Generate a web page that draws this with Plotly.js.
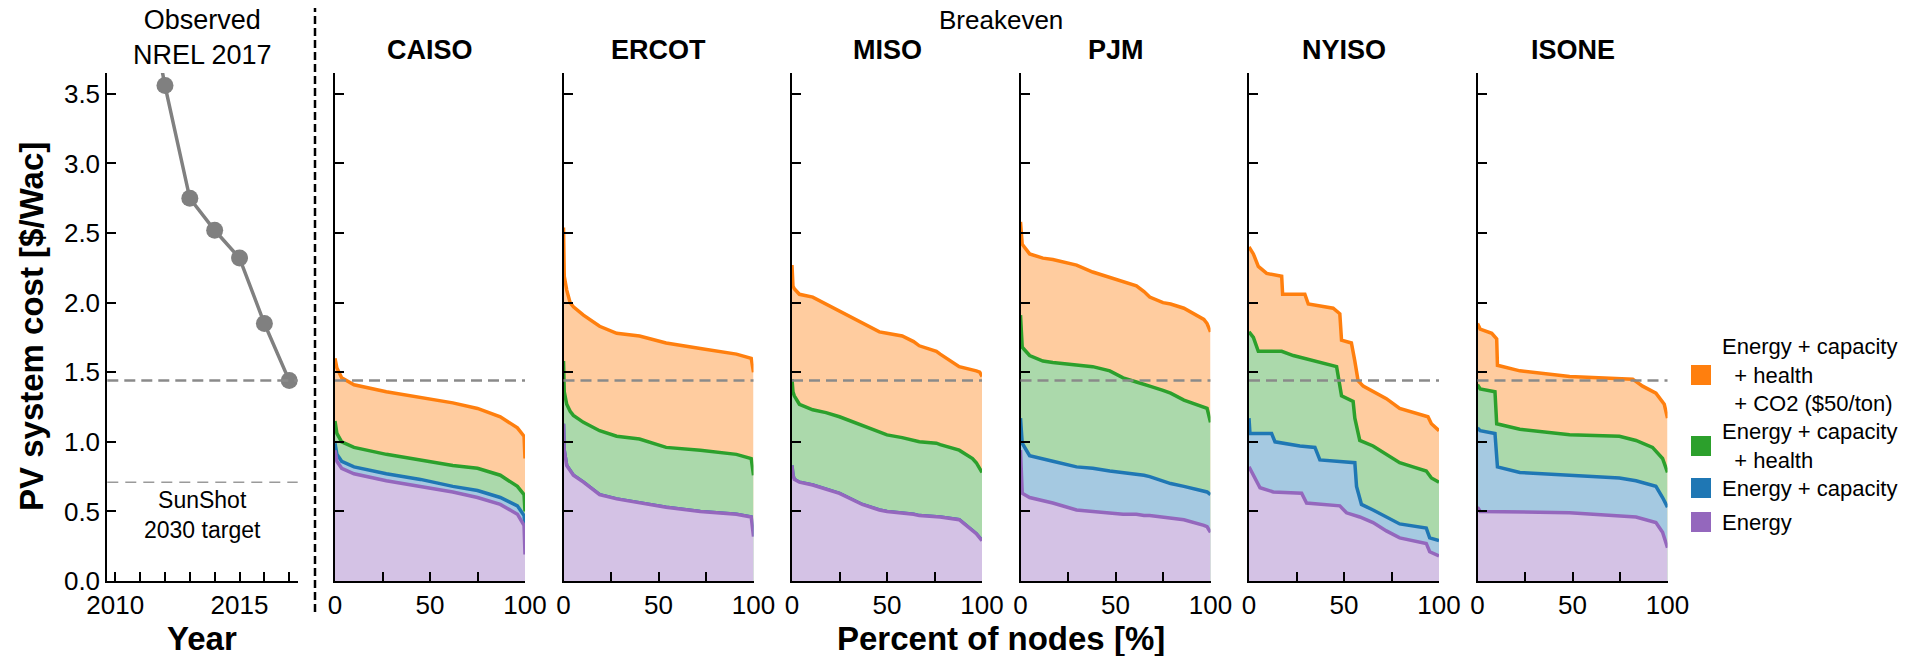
<!DOCTYPE html>
<html><head><meta charset="utf-8">
<script src="https://cdn.plot.ly/plotly-3.0.1.min.js"></script>
<style>html,body{margin:0;padding:0;background:#fff}</style>
</head><body><div id="chart" style="width:1915px;height:656px"></div>
<script>
// ---------------- DATA ----------------
const years = [2011, 2012, 2013, 2014, 2015, 2016, 2017];
const observedCost = [4.5, 3.56, 2.75, 2.52, 2.32, 1.85, 1.44];
const currentCost = 1.44;      // 2017 observed cost (dashed line)
const sunshotTarget = 0.71;    // SunShot 2030 target

const regions = ['CAISO', 'ERCOT', 'MISO', 'PJM', 'NYISO', 'ISONE'];
const seriesLabels = [
  'Energy + capacity<br>&nbsp;&nbsp;+ health<br>&nbsp;&nbsp;+ CO2 ($50/ton)',
  'Energy + capacity<br>&nbsp;&nbsp;+ health',
  'Energy + capacity',
  'Energy'
];
const yTickVals = [0, 0.5, 1, 1.5, 2, 2.5, 3, 3.5];
const yTickText = ['0.0', '0.5', '1.0', '1.5', '2.0', '2.5', '3.0', '3.5'];
const yearTickVals = [2010, 2011, 2012, 2013, 2014, 2015, 2016, 2017];
const yearTickText = ['2010', '', '', '', '', '2015', '', ''];
const pctTickVals = [0, 25, 50, 75, 100];
const pctTickText = ['0', '', '50', '', '100'];

// CAISO
const caisoPct      = [0, 1, 3.5, 10, 27, 45, 62, 75, 87, 96, 99.5, 100];
const caisoCO2      = [1.60, 1.53, 1.46, 1.41, 1.36, 1.32, 1.28, 1.24, 1.18, 1.10, 1.04, 0.88];
const caisoHealth   = [1.15, 1.06, 1.00, 0.96, 0.91, 0.87, 0.83, 0.81, 0.76, 0.68, 0.62, 0.50];
const caisoCapacity = [0.99, 0.91, 0.86, 0.82, 0.77, 0.73, 0.68, 0.65, 0.60, 0.54, 0.47, 0.40];
const caisoEnergy   = [0.94, 0.86, 0.81, 0.77, 0.72, 0.68, 0.64, 0.60, 0.55, 0.48, 0.40, 0.19];

// ERCOT (capacity value equals energy value)
const ercotPct      = [0, 0.4, 1.7, 3.5, 5.2, 10.5, 19, 28, 40, 54, 72, 91, 98.8, 100];
const ercotCO2      = [2.54, 2.19, 2.09, 2.00, 1.97, 1.91, 1.83, 1.78, 1.76, 1.71, 1.67, 1.63, 1.60, 1.50];
const ercotHealth   = [1.58, 1.36, 1.27, 1.22, 1.19, 1.14, 1.08, 1.04, 1.02, 0.96, 0.94, 0.91, 0.88, 0.76];
const ercotEnergy   = [1.13, 0.94, 0.83, 0.79, 0.76, 0.71, 0.62, 0.59, 0.56, 0.53, 0.50, 0.48, 0.46, 0.32];
const ercotCapacity = ercotEnergy;

// MISO (capacity value equals energy value)
const misoPct      = [0, 0.5, 1.2, 3.9, 10.9, 17.9, 25, 37, 46, 50, 58, 64, 67, 76, 78, 88, 95, 97, 98.8, 100];
const misoCO2      = [2.27, 2.12, 2.10, 2.06, 2.04, 1.99, 1.94, 1.85, 1.79, 1.78, 1.76, 1.72, 1.69, 1.65, 1.63, 1.54, 1.52, 1.51, 1.50, 1.47];
const misoHealth   = [1.45, 1.36, 1.33, 1.27, 1.23, 1.21, 1.18, 1.12, 1.07, 1.05, 1.03, 1.01, 1.00, 0.99, 0.98, 0.94, 0.88, 0.85, 0.80, 0.78];
const misoEnergy   = [0.83, 0.76, 0.73, 0.71, 0.69, 0.66, 0.63, 0.55, 0.51, 0.50, 0.49, 0.48, 0.47, 0.46, 0.46, 0.44, 0.36, 0.34, 0.31, 0.29];
const misoCapacity = misoEnergy;

// PJM
const pjmPct      = [0, 0.5, 0.9, 4.8, 11.8, 17, 29.5, 38, 47, 54, 61, 65, 68, 75, 79, 86, 96.5, 98.2, 100];
const pjmCO2      = [2.58, 2.46, 2.42, 2.35, 2.32, 2.31, 2.27, 2.22, 2.18, 2.15, 2.12, 2.08, 2.04, 2.00, 1.99, 1.96, 1.88, 1.85, 1.79];
const pjmHealth   = [1.91, 1.71, 1.68, 1.62, 1.58, 1.57, 1.55, 1.54, 1.51, 1.46, 1.43, 1.41, 1.40, 1.37, 1.35, 1.30, 1.25, 1.24, 1.14];
const pjmCapacity = [1.17, 1.02, 0.99, 0.90, 0.88, 0.86, 0.82, 0.81, 0.79, 0.78, 0.77, 0.76, 0.75, 0.72, 0.70, 0.68, 0.65, 0.64, 0.62];
const pjmEnergy   = [0.94, 0.64, 0.63, 0.60, 0.58, 0.56, 0.51, 0.50, 0.49, 0.48, 0.48, 0.47, 0.47, 0.46, 0.45, 0.44, 0.40, 0.39, 0.35];

// NYISO (stepped curves, one percent grid per series)
const nyisoPctCO2      = [0, 2.3, 4.9, 9.3, 17.2, 17.7, 29.4, 31.2, 44.3, 47.8, 48.7, 53.9, 55.7, 57.4, 60.1, 65.3, 72.3, 79.3, 86.3, 94.2, 96.0, 100];
const nyisoCO2         = [2.40, 2.35, 2.26, 2.21, 2.19, 2.06, 2.06, 1.99, 1.96, 1.92, 1.73, 1.71, 1.58, 1.44, 1.40, 1.36, 1.31, 1.24, 1.21, 1.18, 1.13, 1.08];
const nyisoPctHealth   = [0, 2.3, 4.9, 17.2, 23.3, 35.6, 46.1, 48.7, 54.8, 55.7, 58.3, 65.3, 72.3, 79.3, 86.3, 93.3, 96.0, 100];
const nyisoHealth      = [1.79, 1.75, 1.65, 1.65, 1.62, 1.58, 1.54, 1.33, 1.29, 1.17, 1.01, 0.97, 0.91, 0.85, 0.82, 0.79, 0.74, 0.71];
const nyisoPctCapacity = [0, 0.5, 11.9, 13.7, 26.8, 34.7, 37.3, 47.8, 55.7, 56.6, 59.2, 65.3, 72.3, 79.3, 93.3, 95.1, 100];
const nyisoCapacity    = [1.17, 1.06, 1.06, 1.00, 0.97, 0.96, 0.87, 0.86, 0.85, 0.68, 0.55, 0.51, 0.46, 0.41, 0.38, 0.31, 0.29];
const nyisoPctEnergy   = [0, 2.3, 5.8, 12.8, 27.7, 30.3, 47.8, 51.3, 58.3, 65.3, 72.3, 79.3, 93.3, 95.1, 100];
const nyisoEnergy      = [0.82, 0.76, 0.67, 0.64, 0.63, 0.56, 0.54, 0.49, 0.46, 0.42, 0.36, 0.31, 0.27, 0.21, 0.18];

// ISONE (one percent grid per series)
const isonePctCO2      = [0, 1.4, 7.5, 10.1, 10.5, 22.3, 48.5, 69.5, 81.7, 86.9, 93.9, 98.3, 100];
const isoneCO2         = [1.85, 1.81, 1.78, 1.74, 1.55, 1.51, 1.47, 1.46, 1.45, 1.40, 1.35, 1.27, 1.17];
const isonePctHealth   = [0, 1.4, 9.2, 10.1, 22.3, 48.5, 74.7, 83.4, 92.1, 97.4, 100];
const isoneHealth      = [1.41, 1.38, 1.36, 1.13, 1.09, 1.05, 1.04, 1.01, 0.96, 0.88, 0.78];
const isonePctCapacity = [0, 1.4, 9.2, 10.5, 22.3, 48.5, 74.7, 83.4, 93.9, 97.4, 100];
const isoneCapacity    = [1.10, 1.08, 1.06, 0.82, 0.78, 0.76, 0.74, 0.72, 0.68, 0.60, 0.53];
const isonePctEnergy   = [0, 1.4, 48.5, 74.7, 83.4, 93.9, 97.4, 100];
const isoneEnergy      = [0.53, 0.50, 0.49, 0.47, 0.46, 0.42, 0.35, 0.24];

// ---------------- STYLE / LAYOUT ----------------
const W = 1915, H = 656;
const FONT = 'Liberation Sans, Arial, Helvetica, sans-serif';
const lineColors = ['#ff7f0e', '#2ca02c', '#1f77b4', '#9467bd'];
const fillColors = ['#ffcc9f', '#abd9ab', '#a5c9e1', '#d4c2e5'];
const px = p => p / W;
const py = p => 1 - p / H;

const plotTop = 73, plotBottom = 581;
const yDomain = [py(plotBottom), py(plotTop)];
const leftDomain = [px(107.3), px(297.7)];
const panelLeft0 = 335, panelStep = 228.5, panelWidth = 190;

const regionSeries = [
  [[caisoPct, caisoCO2], [caisoPct, caisoHealth], [caisoPct, caisoCapacity], [caisoPct, caisoEnergy]],
  [[ercotPct, ercotCO2], [ercotPct, ercotHealth], [ercotPct, ercotCapacity], [ercotPct, ercotEnergy]],
  [[misoPct, misoCO2], [misoPct, misoHealth], [misoPct, misoCapacity], [misoPct, misoEnergy]],
  [[pjmPct, pjmCO2], [pjmPct, pjmHealth], [pjmPct, pjmCapacity], [pjmPct, pjmEnergy]],
  [[nyisoPctCO2, nyisoCO2], [nyisoPctHealth, nyisoHealth], [nyisoPctCapacity, nyisoCapacity], [nyisoPctEnergy, nyisoEnergy]],
  [[isonePctCO2, isoneCO2], [isonePctHealth, isoneHealth], [isonePctCapacity, isoneCapacity], [isonePctEnergy, isoneEnergy]]
];

const traces = [];
traces.push({
  type: 'scatter', mode: 'lines+markers', x: years, y: observedCost,
  xaxis: 'x', yaxis: 'y', showlegend: false, hoverinfo: 'skip',
  line: {color: '#808080', width: 3.5},
  marker: {color: '#808080', size: 17}
});

const axisCommon = {
  showline: true, linecolor: '#000', linewidth: 2, mirror: false,
  ticks: 'inside', ticklen: 9, tickwidth: 2, tickcolor: '#000',
  showgrid: false, zeroline: false,
  tickfont: {family: FONT, size: 26, color: '#000'}
};

const layout = {
  width: W, height: H,
  margin: {l: 0, r: 0, t: 0, b: 0},
  paper_bgcolor: '#fff', plot_bgcolor: 'rgba(0,0,0,0)',
  showlegend: false,
  font: {family: FONT, color: '#000'},
  xaxis: Object.assign({}, axisCommon, {
    domain: leftDomain, anchor: 'y', range: [2009.68, 2017.34],
    tickmode: 'array', tickvals: yearTickVals, ticktext: yearTickText
  }),
  yaxis: Object.assign({}, axisCommon, {
    domain: yDomain, anchor: 'x', range: [0, 3.65],
    tickmode: 'array', tickvals: yTickVals, ticktext: yTickText
  }),
  shapes: [],
  annotations: []
};

// left panel reference lines
layout.shapes.push({type: 'line', xref: 'x domain', yref: 'y', x0: 0, x1: 1, y0: currentCost, y1: currentCost,
  line: {color: '#8a8a8a', width: 2.5, dash: '11px,6px'}});
layout.shapes.push({type: 'line', xref: 'x domain', yref: 'y', x0: 0, x1: 1, y0: sunshotTarget, y1: sunshotTarget,
  line: {color: '#9a9a9a', width: 1.6, dash: '11px,7px'}});

regions.forEach((name, i) => {
  const k = i + 2;
  const xl = panelLeft0 + i * panelStep;
  layout['xaxis' + k] = Object.assign({}, axisCommon, {
    domain: [px(xl), px(xl + panelWidth)], anchor: 'y' + k, range: [0, 100],
    tickmode: 'array', tickvals: pctTickVals, ticktext: pctTickText
  });
  layout['yaxis' + k] = Object.assign({}, axisCommon, {
    domain: yDomain, anchor: 'x' + k, range: [0, 3.65],
    tickmode: 'array', tickvals: yTickVals, showticklabels: false
  });
  regionSeries[i].forEach((s, j) => {
    traces.push({
      type: 'scatter', mode: 'lines', x: s[0], y: s[1],
      xaxis: 'x' + k, yaxis: 'y' + k, showlegend: false, hoverinfo: 'skip',
      fill: 'tozeroy', fillcolor: fillColors[j],
      line: {color: lineColors[j], width: 3.5}
    });
  });
  layout.shapes.push({type: 'line', xref: 'x' + k + ' domain', yref: 'y' + k, x0: 0, x1: 1,
    y0: currentCost, y1: currentCost, line: {color: '#8a8a8a', width: 2.5, dash: '11px,6px'}});
  layout.annotations.push({text: '<b>' + name + '</b>', xref: 'paper', yref: 'paper',
    x: px(xl + panelWidth / 2), y: py(50), xanchor: 'center', yanchor: 'middle', showarrow: false,
    font: {family: FONT, size: 27, color: '#000'}});
});

// divider
layout.shapes.push({type: 'line', xref: 'paper', yref: 'paper', x0: px(315), x1: px(315), y0: py(612), y1: py(8),
  line: {color: '#000', width: 2.5, dash: '8px,4px'}});

// titles
const ann = (text, x, y, size, extra) => layout.annotations.push(Object.assign({
  text, xref: 'paper', yref: 'paper', x: px(x), y: py(y), xanchor: 'center', yanchor: 'middle',
  showarrow: false, font: {family: FONT, size, color: '#000'}
}, extra || {}));
ann('Observed<br>NREL 2017', 202, 37, 27);
ann('Breakeven', 1001, 20, 26);
ann('SunShot<br>2030 target', 202, 515, 23);
ann('<b>Year</b>', 202, 638, 33);
ann('<b>Percent of nodes [%]</b>', 1001, 638, 33);
ann('<b>PV system cost [$/Wac]</b>', 31, 327, 33, {textangle: -90});

// manual legend
const legendCenters = [375, 446, 488, 522];
seriesLabels.forEach((lab, j) => {
  const c = legendCenters[j];
  layout.shapes.push({type: 'rect', xref: 'paper', yref: 'paper', x0: px(1691), x1: px(1711),
    y0: py(c + 10), y1: py(c - 10), fillcolor: lineColors[j], line: {width: 0}});
  layout.annotations.push({text: lab, xref: 'paper', yref: 'paper', x: px(1720), y: py(c),
    xanchor: 'left', yanchor: 'middle', align: 'left', showarrow: false,
    font: {family: FONT, size: 22, color: '#000'}});
});

Plotly.newPlot('chart', traces, layout, {staticPlot: true, displayModeBar: false});
</script></body></html>
